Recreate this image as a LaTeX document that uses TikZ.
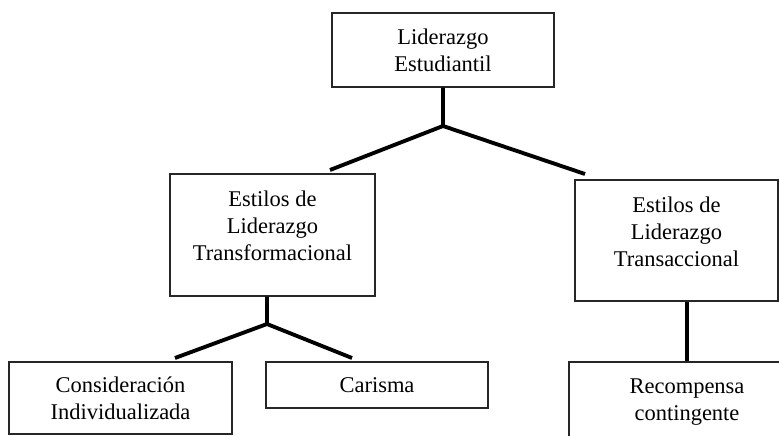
\documentclass[tikz,border=0pt]{standalone}
\usepackage{fontspec}
\setmainfont{Liberation Serif}
\usetikzlibrary{positioning}
\begin{document}
\begin{tikzpicture}[x=0.02cm, y=-0.02cm]
	% Setup the styles for the boxes and the links
	\tikzset{box/.style={draw=black!85, line width=0.7pt,
			align=center, inner sep=0pt,
			font=\fontsize{12.8}{15.4}\selectfont},
		high/.style={text depth=0.36cm},
		link/.style={line width=2.2pt, line join=round}}
	
	\useasboundingbox (0,0) rectangle (779,436);
	
	\node[box, minimum width=4.44cm, minimum height=1.48cm] (lid) at (443,50)    {Liderazgo\\Estudiantil};
	\node[box, high, minimum width=4.10cm, minimum height=2.44cm] (trf) at (272.5,235) {Estilos de\\Liderazgo\\Transformacional};
	\node[box, high, minimum width=4.06cm, minimum height=2.42cm] (trs) at (676.5,240.5) {Estilos de\\Liderazgo\\Transaccional};
	\node[box, minimum width=4.46cm, minimum height=1.44cm] (con) at (120.5,398) {Consideración\\Individualizada};
	\node[box, minimum width=4.44cm, minimum height=0.92cm] (car) at (377,385)   {Carisma};
	\node[box, minimum width=4.72cm, minimum height=1.60cm] (rec) at (687,402)   {Recompensa\\contingente};
	
	% Joints and free ends
	\coordinate (j1) at (443,126);
	\coordinate (e1) at (330,170);
	\coordinate (e2) at (585,174);
	\coordinate (j2) at (267,324);
	\coordinate (e3) at (175,358);
	\coordinate (e4) at (352,358);
	
	\draw[link] (lid.south) -- (j1) -- (e1);
	\draw[link] (j1) -- (e2);
	\draw[link] (j2 |- trf.south) -- (j2) -- (e3);
	\draw[link] (j2) -- (e4);
	\draw[link] (rec.north |- trs.south) -- (rec.north);
	
\end{tikzpicture}
\end{document}
